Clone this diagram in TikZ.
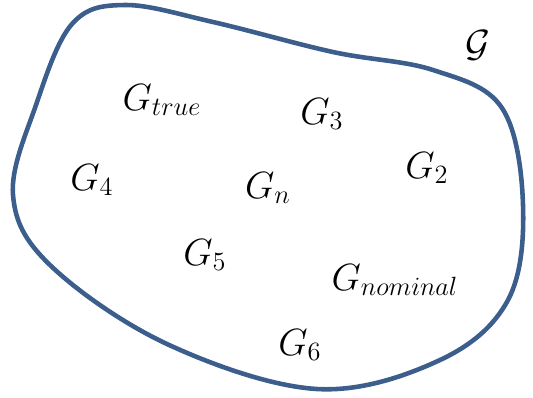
\documentclass[tikz,border=0pt]{standalone}
\usepackage{amsmath,amssymb}
\usepackage{tikz}
\usetikzlibrary{positioning,calc}

\definecolor{blobblue}{RGB}{59,94,140}
\tikzset{
  setlbl/.style={font=\LARGE,scale=1.25,inner sep=0pt},
}

\begin{document}
\begin{tikzpicture}[x=0.02cm,y=-0.02cm]
\useasboundingbox (0,0) rectangle (533,397);
% outline of the set (pixel coords, y downwards)
\draw[blobblue,line width=2.6pt,line join=round] plot[smooth cycle,tension=0.6] coordinates {
  (125,5) (213,22) (333,52) (433,70) (502,108) (523,205) (508,300) (440,360)
  (317,389) (167,344) (50,265) (13,195) (36,105) (72,24)};
% members
\node[setlbl] (setname) at (478,45) {$\mathcal{G}$};
\node[setlbl] (gtrue) at (162,100) {$G_{true}$};
\node[setlbl] (gthree) at (322,114) {$G_3$};
\node[setlbl] (gtwo) at (427,168) {$G_2$};
\node[setlbl] (gfour) at (92,180) {$G_4$};
\node[setlbl] (gn) at (268,188) {$G_n$};
\node[setlbl] (gfive) at (205,255) {$G_5$};
\node[setlbl] (gnominal) at (395,280) {$G_{nominal}$};
\node[setlbl] (gsix) at (300,345) {$G_6$};
\end{tikzpicture}
\end{document}
